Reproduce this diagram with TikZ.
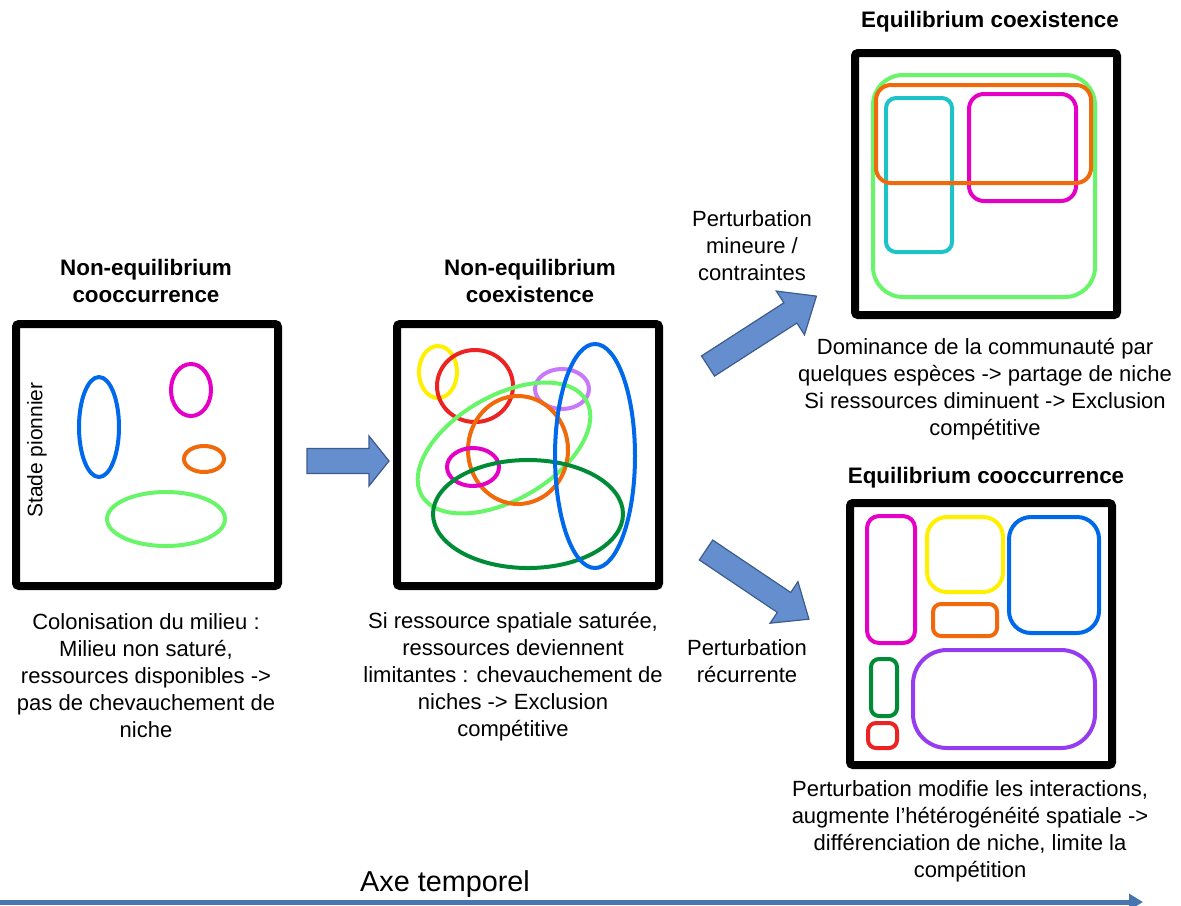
\documentclass[tikz,border=0pt]{standalone}
\usepackage{fontspec}
\setmainfont{Liberation Sans}
\usetikzlibrary{arrows.meta}

\definecolor{nicheblue}{RGB}{0,105,235}
\definecolor{nichemagenta}{RGB}{228,0,196}
\definecolor{nicheorange}{RGB}{240,105,10}
\definecolor{nichelight}{RGB}{105,245,105}
\definecolor{nichegreen}{RGB}{0,140,55}
\definecolor{nicheyellow}{RGB}{255,240,0}
\definecolor{nichered}{RGB}{235,35,35}
\definecolor{nichelilac}{RGB}{200,120,250}
\definecolor{nichepurple}{RGB}{150,60,240}
\definecolor{nichecyan}{RGB}{30,195,200}
\definecolor{arrowfill}{RGB}{100,142,206}
\definecolor{arrowdraw}{RGB}{60,92,140}
\definecolor{axiscol}{RGB}{72,116,176}

\tikzset{
  frame/.style={line width=4pt, rounded corners=1.5pt},
  niche/.style={line width=2pt},
  desc/.style={align=center, font=\fontsize{11}{13.5}\selectfont},
  heading/.style={align=center, font=\fontsize{11.2}{13.5}\selectfont\bfseries},
  bigarrow/.style={fill=arrowfill, draw=arrowdraw, line width=0.6pt}
}

\begin{document}
\begin{tikzpicture}[x=0.5pt,y=-0.5pt]
        \useasboundingbox (0,0) rectangle (1181,905);

        % Frames
        \draw[frame] (16,324) rectangle (278,586);
        \draw[frame] (397,324) rectangle (659,586);
        \draw[frame] (855,53) rectangle (1117,315);
        \draw[frame] (850,503) rectangle (1112,765);

        % Titles
        \node[heading] (tpion) at (146,281) {Non-equilibrium\\cooccurrence};
        \node[heading] (tnoneq) at (530,281) {Non-equilibrium\\coexistence};
        \node[heading] (teqcoex) at (990,22) {Equilibrium coexistence};
        \node[heading] (teqcooc) at (986,478) {Equilibrium cooccurrence};

        % Pioneer stage niches
        \node[rotate=90, font=\fontsize{10.5}{12}\selectfont] (stade) at (37,450) {Stade pionnier};
        \foreach \x/\y/\a/\b/\c in {99/427/20/50/nicheblue, 191/390/20/26/nichemagenta,
                                    204/459/20/13/nicheorange, 166/519/59/27/nichelight} {
            \draw[niche,\c] (\x,\y) ellipse [x radius=\a, y radius=\b];
        }

        % Overlapping niches
        \foreach \x/\y/\a/\b/\c in {438/372/19/26/nicheyellow, 475/386/38/36/nichered,
                                    562/389/27/20/nichelilac} {
            \draw[niche,\c] (\x,\y) ellipse [x radius=\a, y radius=\b];
        }
        \draw[niche,nichelight,rotate around={30:(504,448)}] (504,448) ellipse [x radius=95, y radius=52];
        \foreach \x/\y/\a/\b/\c in {518/450/50/54/nicheorange, 473/467/26/19/nichemagenta,
                                    528/514/95/54/nichegreen, 595/456/40/112/nicheblue} {
            \draw[niche,\c] (\x,\y) ellipse [x radius=\a, y radius=\b];
        }

        % Niche partitioning
        \foreach \xa/\ya/\xb/\yb/\r/\c in {873/75/1095/297/15/nichelight, 886/98/952/252/5/nichecyan,
                                           969/94/1076/201/7.5/nichemagenta, 876/85/1091/183/7.5/nicheorange} {
            \draw[niche,\c,rounded corners=\r pt] (\xa,\ya) rectangle (\xb,\yb);
        }

        % Niche differentiation
        \foreach \xa/\ya/\xb/\yb/\r/\c in {867/516/915/643/6/nichemagenta, 927/517/1003/592/10/nicheyellow,
                                           1009/517/1099/633/11/nicheblue, 933/604/997/636/4/nicheorange,
                                           871/659/897/716/4/nichegreen, 868/723/897/748/4/nichered,
                                           913/650/1095/748/17/nichepurple} {
            \draw[niche,\c,rounded corners=\r pt] (\xa,\ya) rectangle (\xb,\yb);
        }

        % Block arrows
        \begin{scope}[shift={(307,461)}]
            \draw[bigarrow] (0,-12.5) -- (62,-12.5) -- (62,-25) -- (82,0) -- (62,25) -- (62,12.5) -- (0,12.5) -- cycle;
        \end{scope}
        \begin{scope}[shift={(708,366)},rotate=32.8]
            \draw[bigarrow] (0,-12) -- (98,-12) -- (98,-26) -- (129,0) -- (98,26) -- (98,12) -- (0,12) -- cycle;
        \end{scope}
        \begin{scope}[shift={(706,550)},rotate=-33.9]
            \draw[bigarrow] (0,-12) -- (94,-12) -- (94,-25) -- (124,0) -- (94,25) -- (94,12) -- (0,12) -- cycle;
        \end{scope}

        % Texts
        \node[desc] (dpion) at (146,676) {Colonisation du milieu :\\Milieu non saturé,\\ressources disponibles ->\\pas de chevauchement de\\niche};
        \node[desc] (dnoneq) at (513,677) {Si ressource spatiale saturée,\\ressources deviennent\\limitantes : chevauchement de\\niches -> Exclusion\\compétitive};
        \node[desc] (pmin) at (752,246) {Perturbation\\mineure /\\contraintes};
        \node[desc] (deqcoex) at (985,389) {Dominance de la communauté par\\quelques espèces -> partage de niche\\Si ressources diminuent -> Exclusion\\compétitive};
        \node[desc] (prec) at (747,661) {Perturbation\\récurrente};
        \node[desc] (deqcooc) at (970,831) {Perturbation modifie les interactions,\\augmente l’hétérogénéité spatiale ->\\différenciation de niche, limite la\\compétition};

        % Time axis
        \coordinate (tstart) at (0,902);
        \coordinate (tend) at (1143,902);
        \draw[axiscol, line width=2.5pt, -{Triangle[length=7pt,width=8pt]}] (tstart) -- (tend);
        \node[font=\fontsize{14.4}{17}\selectfont] (axe) at (445,884) {Axe temporel};
\end{tikzpicture}
\end{document}
